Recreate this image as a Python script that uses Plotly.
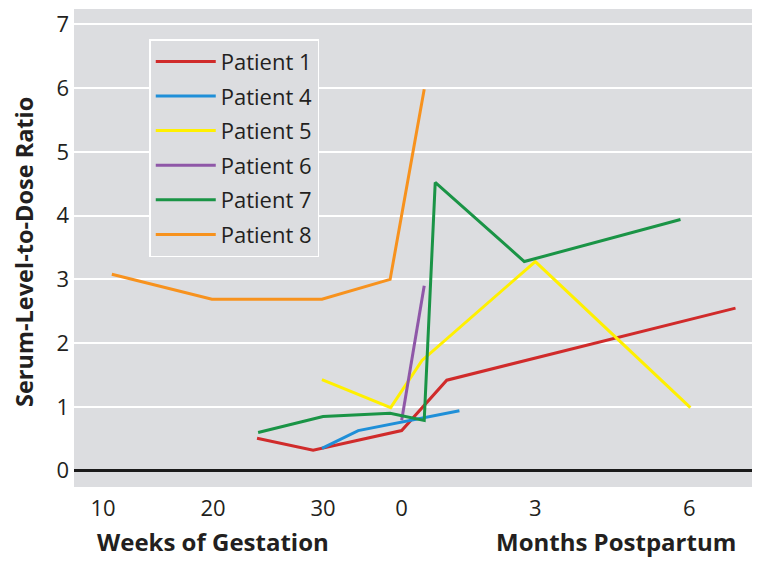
import plotly.graph_objects as go

# x positions on a combined timeline (gestation weeks, then postpartum)
tick_pos = [10, 20, 30, 37.15, 49.3, 63.3]
tick_text = ["10", "20", "30", "0", "3", "6"]

p1_x = [24.0, 29.1, 37.15, 41.25, 67.5]
p1_y = [0.51, 0.32, 0.63, 1.42, 2.55]

p4_x = [29.9, 33.2, 42.4]
p4_y = [0.35, 0.63, 0.94]

p5_x = [29.9, 36.15, 39.0, 49.3, 63.4]
p5_y = [1.43, 0.99, 1.73, 3.28, 0.99]

p6_x = [37.15, 39.2]
p6_y = [0.79, 2.90]

p7_x = [24.1, 30.0, 36.1, 39.2, 40.2, 48.3, 62.5]
p7_y = [0.60, 0.85, 0.90, 0.79, 4.52, 3.28, 3.94]

p8_x = [10.8, 19.9, 29.9, 36.1, 39.2]
p8_y = [3.08, 2.69, 2.69, 3.00, 5.98]

series = [
    ("Patient 1", p1_x, p1_y, "#d02b2b"),
    ("Patient 4", p4_x, p4_y, "#1f8fd8"),
    ("Patient 5", p5_x, p5_y, "#fff000"),
    ("Patient 6", p6_x, p6_y, "#8f57a8"),
    ("Patient 7", p7_x, p7_y, "#1a9446"),
    ("Patient 8", p8_x, p8_y, "#f7921e"),
]

FONT = "Open Sans"
BG = "#dcdde0"
TXT = "#231f20"

fig = go.Figure()
for i, (name, xs, ys, col) in enumerate(series):
    fig.add_trace(go.Scatter(x=xs, y=ys, mode="lines", name=name,
                             legendgroup=f"g{i}",
                             line=dict(color=col, width=3)))

fig.update_layout(
    width=754, height=556,
    margin=dict(l=66, r=10, t=1, b=77),
    paper_bgcolor="white", plot_bgcolor=BG,
    font=dict(family=FONT, size=22, color=TXT),
    showlegend=True,
    legend=dict(x=0.111, y=0.937, xanchor="left", yanchor="top",
                bgcolor=BG, bordercolor="white", borderwidth=1.5,
                font=dict(family=FONT, size=22, color=TXT),
                tracegroupgap=3, itemwidth=60, traceorder="grouped"),
    xaxis=dict(range=[7.36, 69.0], tickmode="array", tickvals=tick_pos,
               ticktext=tick_text, showgrid=False, zeroline=False,
               ticks="", showline=False, ticklabelstandoff=6,
               tickfont=dict(family=FONT, size=22, color=TXT)),
    yaxis=dict(range=[-0.255, 7.24], tickmode="array",
               tickvals=[0, 1, 2, 3, 4, 5, 6, 7],
               showgrid=True, gridcolor="white", gridwidth=2,
               zeroline=True, zerolinecolor="#1a1a1a", zerolinewidth=3,
               ticks="", showline=False, ticklabelstandoff=4,
               tickfont=dict(family=FONT, size=22, color=TXT)),
    annotations=[
        dict(text="<b>Serum-Level-to-Dose Ratio</b>", xref="paper", yref="paper",
             x=0, y=0.5, xanchor="center", yanchor="middle", xshift=-50,
             yshift=-4, textangle=-90, showarrow=False,
             font=dict(family=FONT, size=23.5, color=TXT)),
        dict(text="<b>Weeks of Gestation</b>", xref="x", yref="paper",
             x=20.0, y=0, yanchor="middle", yshift=-54, showarrow=False,
             font=dict(family=FONT, size=24, color=TXT)),
        dict(text="<b>Months Postpartum</b>", xref="x", yref="paper",
             x=56.65, y=0, yanchor="middle", yshift=-54, showarrow=False,
             font=dict(family=FONT, size=24, color=TXT)),
    ],
)

fig.write_html("out.html")
